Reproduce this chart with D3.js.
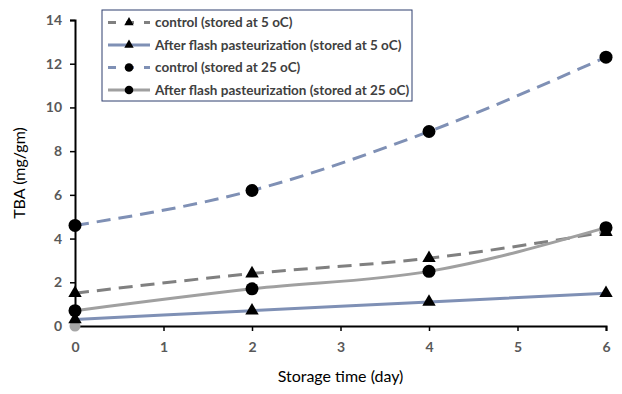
<!DOCTYPE html>
<html><head><meta charset="utf-8">
<script src="https://cdn.jsdelivr.net/npm/d3@7"></script>
<style>body{margin:0;background:#fff}svg{display:block}text{font-family:Lato,"Open Sans",sans-serif}</style>
</head><body><svg id="c" width="622" height="394"></svg>
<script>
const days = [0, 2, 4, 6];
const control5 = [1.5, 2.4, 3.1, 4.3];
const flash5 = [0.3, 0.7, 1.1, 1.5];
const control25 = [4.6, 6.2, 8.9, 12.3];
const flash25 = [0.7, 1.7, 2.5, 4.5];
const extraPoint = [{x: 0, y: 0}];
const xTicks = [0, 1, 2, 3, 4, 5, 6];
const yTicks = [0, 2, 4, 6, 8, 10, 12, 14];
const seriesNames = ["control (stored at 5 oC)", "After flash pasteurization (stored at 5 oC)", "control (stored at 25 oC)", "After flash pasteurization (stored at 25 oC)"];

const svg = d3.select("#c");
const x = d3.scaleLinear().domain([0, 6]).range([75, 606]);
const y = d3.scaleLinear().domain([0, 14]).range([326, 20]);

const series = [
  {name: seriesNames[0], vals: control5, color: "#808080", dash: "14,8", marker: "tri"},
  {name: seriesNames[1], vals: flash5, color: "#7f90b5", dash: null, marker: "tri"},
  {name: seriesNames[2], vals: control25, color: "#7f90b5", dash: "14,8", marker: "circ"},
  {name: seriesNames[3], vals: flash25, color: "#a0a0a0", dash: null, marker: "circ"}
];

const line = d3.line().x(d => x(d[0])).y(d => y(d[1])).curve(d3.curveMonotoneX);

// axes
const xAxis = svg.append("g").attr("transform", `translate(0,${y(0)})`)
  .call(d3.axisBottom(x).tickValues(xTicks).tickSize(5).tickFormat(d3.format("d")));
const yAxis = svg.append("g").attr("transform", `translate(${x(0)},0)`)
  .call(d3.axisLeft(y).tickValues(yTicks).tickSize(5).tickFormat(d3.format("d")));
[xAxis, yAxis].forEach(a => {
  a.select(".domain").attr("stroke", "#000").attr("stroke-width", 2);
  a.selectAll(".tick line").attr("stroke", "#000").attr("stroke-width", 1.5);
  a.selectAll("text").attr("fill", "#595959").attr("font-size", 14).attr("font-weight", "bold");
});
xAxis.selectAll("text").attr("dy", "1.25em");
yAxis.selectAll("text").attr("dx", "-0.35em");

// lines
series.forEach(s => {
  svg.append("path").datum(days.map((d, i) => [d, s.vals[i]]))
    .attr("d", line).attr("fill", "none").attr("stroke", s.color)
    .attr("stroke-width", 3).attr("stroke-dasharray", s.dash);
});

// extra point
svg.selectAll(".extra").data(extraPoint).enter().append("circle")
  .attr("cx", d => x(d.x)).attr("cy", d => y(d.y)).attr("r", 5.5).attr("fill", "#a6a6a6");

function drawMarker(g, type, cx, cy, small) {
  if (type === "tri") g.append("path").attr("d", d3.symbol().type(d3.symbolTriangle).size(small ? 38 : 78)())
    .attr("transform", `translate(${cx},${cy})`).attr("fill", "#000");
  else g.append("circle").attr("cx", cx).attr("cy", cy).attr("r", small ? 4.3 : 6.5).attr("fill", "#000");
}
series.forEach(s => {
  days.forEach((d, i) => drawMarker(svg, s.marker, x(d), y(s.vals[i]), false));
});

// axis titles
svg.append("text").attr("x", x(3)).attr("y", 382).attr("text-anchor", "middle")
  .attr("font-size", 16).attr("fill", "#000").text("Storage time (day)");
svg.append("text").attr("transform", `translate(25,${y(7)}) rotate(-90)`).attr("text-anchor", "middle")
  .attr("font-size", 16).attr("fill", "#000").text("TBA (mg/gm)");

// legend
const lg = svg.append("g");
lg.append("rect").attr("x", 102).attr("y", 10).attr("width", 310).attr("height", 91)
  .attr("fill", "#fff").attr("stroke", "#2f3f6f").attr("stroke-width", 1);
series.forEach((s, i) => {
  const cy = 22.5 + i * 22.5;
  lg.append("line").attr("x1", 108).attr("x2", 150).attr("y1", cy).attr("y2", cy)
    .attr("stroke", s.color).attr("stroke-width", 3).attr("stroke-dasharray", s.dash ? "8,10" : null);
  drawMarker(lg, s.marker, 129, cy, true);
  lg.append("text").attr("x", 155).attr("y", cy + 4.5).attr("font-size", 13.5).attr("font-weight", "bold")
    .attr("fill", "#404040").text(s.name);
});
</script></body></html>
